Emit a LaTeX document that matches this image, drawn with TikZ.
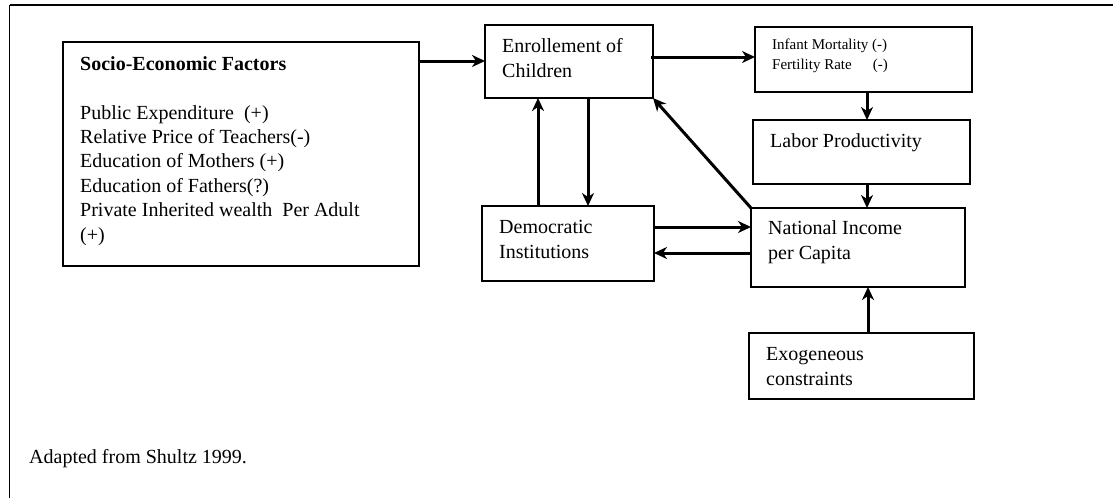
\documentclass[tikz,border=0pt]{standalone}
\usepackage{fontspec}
\setmainfont{Liberation Serif}
\usetikzlibrary{arrows.meta}
\newcommand{\bigfont}{\fontsize{20pt}{24.4pt}\selectfont}
\newcommand{\smallfont}{\fontsize{15pt}{20pt}\selectfont}
\tikzset{
  box/.style={draw, line width=1.2pt, inner sep=0pt, outer sep=0pt, anchor=north west},
  arr/.style={-{Stealth[length=13pt,width=12pt,inset=4pt]}, line width=3pt},
  txt/.style={anchor=base west, inner sep=0pt, align=left, font=\bigfont},
  stxt/.style={anchor=base west, inner sep=0pt, align=left, font=\smallfont},
}
\begin{document}
\begin{tikzpicture}[x=1pt,y=-1pt]
\useasboundingbox (0,0) rectangle (1113,498);
% outer frame
\coordinate (fbl) at (9.5,498);
\coordinate (ftl) at (9.5,5);
\coordinate (ftr) at (1113,5);
\draw[line width=1.6pt] (fbl) -- (ftl);
\draw[line width=2.2pt] (ftl) -- (ftr);

% boxes
\node[box, minimum width=356pt, minimum height=224pt] (socio) at (63,42) {};
\node[box, minimum width=168pt, minimum height=73pt] (enroll) at (485,25) {};
\node[box, minimum width=217pt, minimum height=65pt] (infant) at (755,27) {};
\node[box, minimum width=217pt, minimum height=64pt] (labor) at (753,120) {};
\node[box, minimum width=214pt, minimum height=79pt] (nat) at (751,208) {};
\node[box, minimum width=172pt, minimum height=75pt] (dem) at (482,206) {};
\node[box, minimum width=225pt, minimum height=66pt] (exo) at (749,333) {};

% texts (base anchor = baseline of last line)
\node[txt] (sociot) at (80,241) {\textbf{Socio-Economic Factors}\\[24.4pt]
Public Expenditure~~(+)\\
Relative Price of Teachers(-)\\
Education of Mothers (+)\\
Education of Fathers(?)\\
Private Inherited wealth~~Per Adult\\
(+)};
\node[txt] (enrollt) at (502,77) {Enrollement of\\Children};
\node[stxt] (infantt) at (772,69) {Infant Mortality (-)\\Fertility Rate\hspace{21pt}(-)};
\node[txt] (labort) at (770,147) {Labor Productivity};
\node[txt] (natt) at (768,259) {National Income\\per Capita};
\node[txt] (demt) at (499,258) {Democratic\\Institutions};
\node[txt] (exot) at (766,385) {Exogeneous\\constraints};
\node[txt] (note) at (29,463) {Adapted from Shultz 1999.};

% arrows
\draw[arr] (socio.east |- 0,61) -- (enroll.west |- 0,61);
\draw[arr] ([xshift=-2pt]enroll.east |- 0,57) -- (infant.west |- 0,57);
\draw[arr] (infant.south -| 867,0) -- (labor.north -| 867,0);
\draw[arr] (labor.south -| 867,0) -- (nat.north -| 867,0);
\draw[arr] (exo.north -| 868,0) -- (nat.south -| 868,0);
\draw[arr] (dem.north -| 538,0) -- (enroll.south -| 538,0);
\draw[arr] (enroll.south -| 588,0) -- (dem.north -| 588,0);
\draw[arr] (dem.east |- 0,227) -- (nat.west |- 0,227);
\draw[arr] (nat.west |- 0,253) -- (dem.east |- 0,253);
\draw[arr] (nat.north west) -- (enroll.south east);
\end{tikzpicture}
\end{document}
